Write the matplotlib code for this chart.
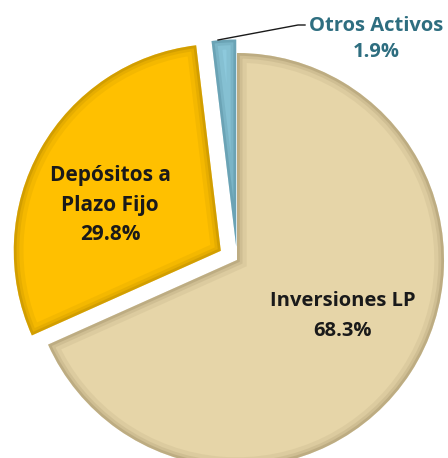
import matplotlib.pyplot as plt
from matplotlib.patches import Wedge

labels = ['Inversiones LP', 'Depósitos a\nPlazo Fijo', 'Otros Activos']
values = [68.3, 29.8, 1.9]
colors = ['#E6D5A8', '#FFC000', '#8DC9DC']
edges = ['#8A7A50', '#9A7400', '#3F7383']
explode_frac = [0.0, 0.09, 0.065]

fig = plt.figure(figsize=(4.48, 4.58), dpi=100)
ax = fig.add_axes([0, 0, 1, 1])

cx, cy, r = 237, 198, 207
# matplotlib's explode offset is in data units, so scale by the radius
wedges, _ = ax.pie(values, colors=colors, explode=[e * r for e in explode_frac],
                   startangle=90, counterclock=False, center=(cx, cy), radius=r,
                   frame=True, wedgeprops=dict(linewidth=0))

# soft bevel: dark strokes clipped to the inside of each wedge
for w, ec in zip(wedges, edges):
    for lw, a in [(14, 0.10), (8, 0.15), (4, 0.25)]:
        rim = Wedge(w.center, w.r, w.theta1, w.theta2, facecolor='none',
                    edgecolor=ec, linewidth=lw, alpha=a)
        ax.add_patch(rim)
        rim.set_clip_path(w)

ax.set_xlim(0, 448)
ax.set_ylim(0, 458)
ax.set_aspect('equal')
ax.axis('off')

font = 'Open Sans'
ax.text(343, 142, f'{labels[0]}\n{values[0]}%', ha='center', va='center',
        fontsize=14.5, fontweight='bold', family=font, color='#1a1a1a', linespacing=1.6)
ax.text(110, 253, f'{labels[1]}\n{values[1]}%', ha='center', va='center',
        fontsize=15, fontweight='bold', family=font, color='#1a1a1a', linespacing=1.55)
ax.text(376, 419, f'{labels[2]}\n{values[2]}%', ha='center', va='center',
        fontsize=14.5, fontweight='bold', family=font, color='#2E6E80', linespacing=1.45)
ax.plot([218, 298, 305], [418, 433, 433], color='#1a1a1a', lw=1)

fig.savefig('out.png', dpi=100)
